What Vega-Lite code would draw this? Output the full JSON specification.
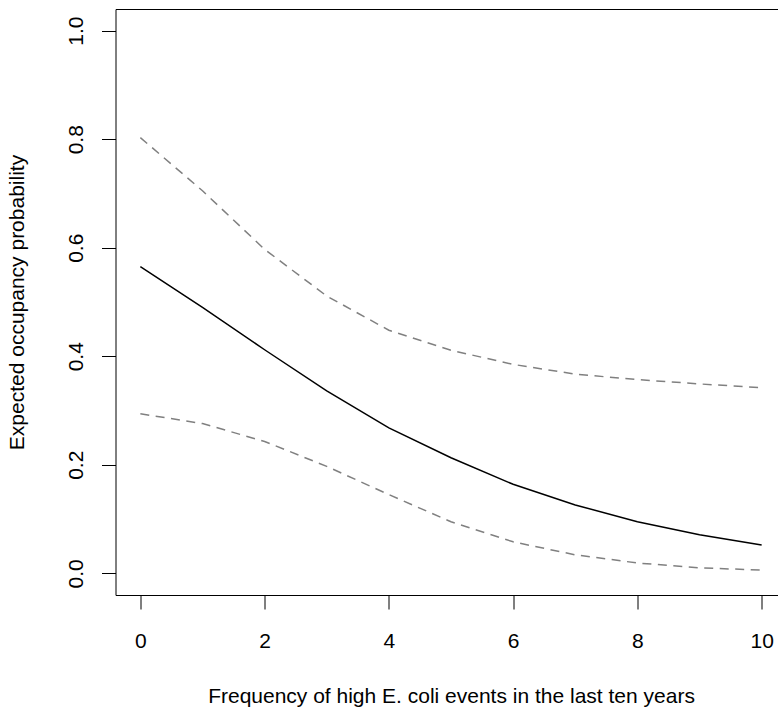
{
  "$schema": "https://vega.github.io/schema/vega-lite/v6.json",
  "width": 671,
  "height": 586,
  "autosize": {"type": "none"},
  "padding": {"left": 115.5, "top": 9, "right": 0, "bottom": 116},
  "background": "white",
  "config": {
    "view": {"stroke": "black", "strokeWidth": 1},
    "axis": {
      "domain": false,
      "grid": false,
      "ticks": true,
      "tickColor": "black",
      "tickWidth": 1,
      "tickSize": 14,
      "labelFont": "Liberation Sans",
      "labelFontSize": 21,
      "labelColor": "black",
      "titleFont": "Liberation Sans",
      "titleFontSize": 21,
      "titleFontWeight": "normal",
      "titleColor": "black"
    }
  },
  "data": {
    "values": [
      {"x": 0, "s": "fit", "p": 0.565},
      {"x": 1, "s": "fit", "p": 0.490},
      {"x": 2, "s": "fit", "p": 0.412},
      {"x": 3, "s": "fit", "p": 0.336},
      {"x": 4, "s": "fit", "p": 0.268},
      {"x": 5, "s": "fit", "p": 0.213},
      {"x": 6, "s": "fit", "p": 0.164},
      {"x": 7, "s": "fit", "p": 0.126},
      {"x": 8, "s": "fit", "p": 0.095},
      {"x": 9, "s": "fit", "p": 0.071},
      {"x": 10, "s": "fit", "p": 0.052},
      {"x": 0, "s": "upper", "p": 0.803},
      {"x": 1, "s": "upper", "p": 0.705},
      {"x": 2, "s": "upper", "p": 0.597},
      {"x": 3, "s": "upper", "p": 0.511},
      {"x": 4, "s": "upper", "p": 0.448},
      {"x": 5, "s": "upper", "p": 0.411},
      {"x": 6, "s": "upper", "p": 0.385},
      {"x": 7, "s": "upper", "p": 0.367},
      {"x": 8, "s": "upper", "p": 0.357},
      {"x": 9, "s": "upper", "p": 0.349},
      {"x": 10, "s": "upper", "p": 0.342},
      {"x": 0, "s": "lower", "p": 0.294},
      {"x": 1, "s": "lower", "p": 0.276},
      {"x": 2, "s": "lower", "p": 0.243},
      {"x": 3, "s": "lower", "p": 0.197},
      {"x": 4, "s": "lower", "p": 0.145},
      {"x": 5, "s": "lower", "p": 0.095},
      {"x": 6, "s": "lower", "p": 0.058},
      {"x": 7, "s": "lower", "p": 0.034},
      {"x": 8, "s": "lower", "p": 0.019},
      {"x": 9, "s": "lower", "p": 0.010},
      {"x": 10, "s": "lower", "p": 0.006}
    ]
  },
  "encoding": {
    "x": {
      "field": "x",
      "type": "quantitative",
      "scale": {"domain": [-0.4, 10.4], "nice": false, "zero": false},
      "axis": {
        "values": [0, 2, 4, 6, 8, 10],
        "title": "Frequency of high E. coli events in the last ten years",
        "labelBaseline": "alphabetic",
        "labelPadding": 38,
        "titlePadding": 34
      }
    },
    "y": {
      "field": "p",
      "type": "quantitative",
      "scale": {"domain": [-0.04, 1.04], "nice": false, "zero": false},
      "axis": {
        "values": [0, 0.2, 0.4, 0.6, 0.8, 1.0],
        "format": ".1f",
        "title": "Expected occupancy probability",
        "labelAngle": 270,
        "labelAlign": "center",
        "labelBaseline": "alphabetic",
        "labelPadding": 19.5,
        "titlePadding": 38
      }
    }
  },
  "layer": [
    {
      "transform": [{"filter": "datum.s === 'fit'"}],
      "mark": {"type": "line", "color": "black", "strokeWidth": 1.5, "clip": true}
    },
    {
      "transform": [{"filter": "datum.s !== 'fit'"}],
      "mark": {"type": "line", "color": "#808080", "strokeWidth": 1.5, "strokeDash": [9, 6.5], "clip": true},
      "encoding": {"detail": {"field": "s", "type": "nominal"}}
    }
  ]
}
